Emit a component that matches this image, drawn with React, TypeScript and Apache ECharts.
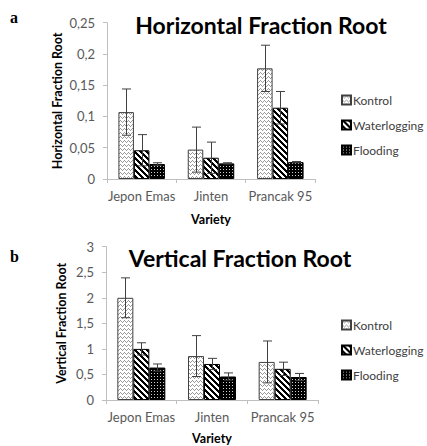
import React, { useEffect, useRef } from "react";
import * as echarts from "echarts";

const categories = ["Jepon Emas", "Jinten", "Prancak 95"];
const seriesNames = ["Kontrol", "Waterlogging", "Flooding"];

const horizKontrol = [0.107, 0.047, 0.177];
const horizWaterlogging = [0.046, 0.034, 0.114];
const horizFlooding = [0.024, 0.025, 0.027];
const horizKontrolErr = [0.037, 0.036, 0.037];
const horizWaterloggingErr = [0.025, 0.025, 0.026];
const horizFloodingErr = [0.002, 0.001, 0.001];

const vertKontrol = [2.0, 0.86, 0.745];
const vertWaterlogging = [1.0, 0.705, 0.61];
const vertFlooding = [0.635, 0.46, 0.45];
const vertKontrolErr = [0.39, 0.4, 0.41];
const vertWaterloggingErr = [0.12, 0.11, 0.13];
const vertFloodingErr = [0.07, 0.07, 0.07];

const horizTickLabels = ["0", "0,05", "0,1", "0,15", "0,2", "0,25"];
const vertTickLabels = ["0", "0,5", "1", "1,5", "2", "2,5", "3"];

function makePattern(w: number, h: number, bg: string, fg: string, test: (x: number, y: number) => boolean) {
  const c = document.createElement("canvas");
  c.width = w;
  c.height = h;
  const ctx = c.getContext("2d")!;
  ctx.fillStyle = bg;
  ctx.fillRect(0, 0, w, h);
  ctx.fillStyle = fg;
  for (let y = 0; y < h; y++) for (let x = 0; x < w; x++) if (test(x, y)) ctx.fillRect(x, y, 1, 1);
  return { image: c.toDataURL(), repeat: "repeat", imageWidth: w, imageHeight: h } as any;
}

export default function App() {
  const ref = useRef<HTMLDivElement>(null);
  useEffect(() => {
    document.body.style.margin = "0";
    const chart = echarts.init(ref.current!, null, { renderer: "svg" });
    const wave = [0, 1, 2, 1];
    const kontrolPat = makePattern(4, 4, "#ffffff", "#9a9a9a", (x, y) => y === wave[x]);
    const waterPat = makePattern(6, 6, "#ffffff", "#000000", (x, y) => (x - y + 6) % 6 < 3);
    const floodPat = makePattern(3, 3, "#000000", "#cfcfcf", (x, y) => x === 1 && y === 1);
    const pats = [kontrolPat, waterPat, floodPat];
    const borders = ["#404040", "#000000", "#000000"];

    const font = "Lato";
    const grids = [
      { left: 107, right: 112, top: 22.7, height: 156.3 },
      { left: 106, right: 109, top: 246.7, height: 156 },
    ];
    const vals = [
      [horizKontrol, horizWaterlogging, horizFlooding],
      [vertKontrol, vertWaterlogging, vertFlooding],
    ];
    const errs = [
      [horizKontrolErr, horizWaterloggingErr, horizFloodingErr],
      [vertKontrolErr, vertWaterloggingErr, vertFloodingErr],
    ];
    const bws = [15.5, 16];

    const series: any[] = [];
    for (let g = 0; g < 2; g++) {
      for (let s = 0; s < 3; s++) {
        series.push({
          type: "bar",
          name: seriesNames[s],
          xAxisIndex: g,
          yAxisIndex: g,
          barWidth: bws[g],
          barGap: "0%",
          data: vals[g][s],
          itemStyle: { color: pats[s], borderColor: borders[s], borderWidth: 1 },
          emphasis: { disabled: true },
        });
      }
      const bw = bws[g];
      const errData: number[][] = [];
      for (let s = 0; s < 3; s++)
        for (let c = 0; c < categories.length; c++) errData.push([c, vals[g][s][c], errs[g][s][c], s]);
      series.push({
        type: "custom",
        name: "err" + g,
        xAxisIndex: g,
        yAxisIndex: g,
        z: 5,
        data: errData,
        encode: { x: 0, y: 1 },
        renderItem: (params: any, api: any) => {
          const c = api.value(0), v = api.value(1), e = api.value(2), k = api.value(3);
          const base = api.coord([c, v]);
          const x = Math.round(base[0] + (k - 1) * bw) + 0.5;
          const top = api.coord([c, v + e])[1];
          const bot = api.coord([c, v - e])[1];
          const cap = 4.5;
          const style = { stroke: "#404040", lineWidth: 1 };
          return {
            type: "group",
            children: [
              { type: "line", shape: { x1: x, y1: top, x2: x, y2: bot }, style },
              { type: "line", shape: { x1: x - cap, y1: top, x2: x + cap, y2: top }, style },
              { type: "line", shape: { x1: x - cap, y1: bot, x2: x + cap, y2: bot }, style },
            ],
          };
        },
      });
    }

    const axisLine = { lineStyle: { color: "#bfbfbf", width: 1 } };
    const tickLabels = [horizTickLabels, vertTickLabels];
    const yNames = ["Horizontal Fraction Root", "Vertical Fraction Root"];
    const nameGaps = [43, 38];
    const legendTops = [89, 314];

    chart.setOption({
      animation: false,
      grid: grids,
      xAxis: [0, 1].map((g) => ({
        type: "category",
        gridIndex: g,
        data: categories,
        axisLine,
        axisTick: { show: true, length: 4, lineStyle: { color: "#bfbfbf" } },
        axisLabel: { color: "#595959", fontFamily: font, fontSize: 13, margin: 10, interval: 0 },
        name: "Variety",
        nameLocation: "middle",
        nameGap: g === 0 ? 34 : 32,
        nameTextStyle: { color: "#000", fontFamily: font, fontWeight: "bold", fontSize: 12.5 },
      })),
      yAxis: [0, 1].map((g) => ({
        type: "value",
        gridIndex: g,
        min: 0,
        max: g === 0 ? 0.25 : 3,
        interval: g === 0 ? 0.05 : 0.5,
        splitLine: { show: false },
        axisLine: { show: true, ...axisLine },
        axisTick: { show: true, length: 4, lineStyle: { color: "#bfbfbf" } },
        axisLabel: {
          color: "#595959",
          fontFamily: font,
          fontSize: 13,
          margin: 12,
          formatter: (_v: number, i: number) => tickLabels[g][i],
        },
        name: yNames[g],
        nameLocation: "middle",
        nameGap: nameGaps[g],
        nameRotate: 90,
        nameTextStyle: { color: "#000", fontFamily: font, fontWeight: "bold", fontSize: 12.5 },
      })),
      legend: [0, 1].map((g) => ({
        orient: "vertical",
        left: 336,
        top: legendTops[g],
        itemWidth: 9,
        itemHeight: 9,
        itemGap: 13,
        icon: "rect",
        selectedMode: false,
        data: seriesNames,
        textStyle: { color: "#404040", fontFamily: font, fontSize: 12, padding: [0, 0, 0, -3] },
      })),
      graphic: [
        { type: "text", x: 261, y: 25, style: { text: "Horizontal Fraction Root", font: "bold 23px Lato", fill: "#000", textAlign: "center", textVerticalAlign: "middle" } },
        { type: "text", x: 240, y: 258, style: { text: "Vertical Fraction Root", font: "bold 23px Lato", fill: "#000", textAlign: "center", textVerticalAlign: "middle" } },
        { type: "text", x: 10, y: 17, style: { text: "a", font: "bold 16px 'Liberation Serif'", fill: "#000", textAlign: "left", textVerticalAlign: "middle" } },
        { type: "text", x: 10, y: 256, style: { text: "b", font: "bold 16px 'Liberation Serif'", fill: "#000", textAlign: "left", textVerticalAlign: "middle" } },
      ],
      series,
    });
    return () => chart.dispose();
  }, []);
  return <div ref={ref} style={{ width: 427, height: 446 }} />;
}
